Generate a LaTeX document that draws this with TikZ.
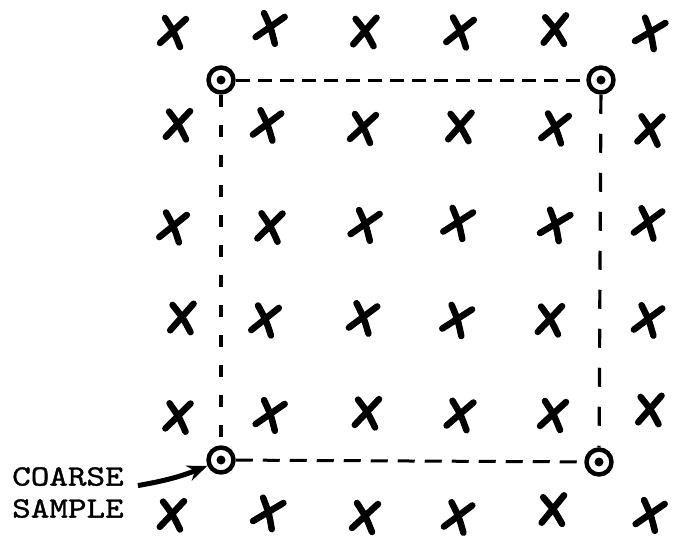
\documentclass[tikz,border=0pt]{standalone}
\usepackage{fontspec}
\usetikzlibrary{arrows.meta}
\newfontfamily\labelfont[FakeStretch=1.2,FakeBold=1.2]{lmmono10-regular.otf}
\tikzset{
  cross/.style={line width=6.5pt,line cap=round},
  sample/.style={circle,draw,line width=4.5pt,minimum size=25pt,inner sep=0pt},
  frameh/.style={line width=3pt,dash pattern=on 14pt off 8pt},
  framev/.style={line width=3.2pt,dash pattern=on 12pt off 18pt},
}
% one hand drawn cross: x, y, tilt
\newcommand{\xmark}[3]{%
  \draw[cross,rotate around={#3:(#1,#2)}] (#1-13,#2+11) -- (#1+13,#2-13)
    (#1-8,#2-14) .. controls (#1+1,#2) .. (#1+7,#2+15);}
\begin{document}
\begin{tikzpicture}[x=1pt,y=-1pt,line join=round,>={Stealth[length=20pt,width=16pt]}]
\useasboundingbox (0,0) rectangle (681,544);
% fine samples
\foreach \px/\py/\ang in {173/32/0,270/28/-8,365/32/6,460/32/-4,555/30/8,650/33/-12,
  178/125/4,267/125/-6,363/128/0,460/127/6,555/128/-4,650/130/2,
  173/227/-4,270/227/2,365/225/-8,458/223/-10,555/225/-12,648/223/-6,
  182/318/6,265/320/-4,363/318/-6,457/320/-10,550/320/4,648/320/-6,
  178/417/2,270/415/-8,367/413/4,460/415/-2,553/415/0,650/410/6,
  172/515/4,268/513/-12,365/517/0,458/517/-6,553/510/8,650/515/-8}
  \xmark{\px}{\py}{\ang};
% coarse samples
\node[sample] (tl) at (221,80) {};
\node[sample] (tr) at (601,80) {};
\node[sample] (bl) at (221,460) {};
\node[sample] (br) at (599,462) {};
\foreach \n in {tl,tr,bl,br}
  \fill (\n) circle (4.5pt);
\draw[frameh] (tl) -- (tr);
\draw[frameh,dash pattern=on 17pt off 10pt] (bl) -- (br);
\draw[framev] (tl) -- (bl);
\draw[framev,dash pattern=on 19pt off 20pt] (tr) -- (br);
% label
\node[anchor=north west,inner sep=0pt,align=left,
  font=\labelfont\fontsize{29.5}{32}\selectfont]
  (lbl) at (12,467) {COARSE\\SAMPLE};
\draw[->,line width=5pt] ([shift={(14,-7)}]lbl.east) to[bend right=6] (bl);
\end{tikzpicture}
\end{document}
